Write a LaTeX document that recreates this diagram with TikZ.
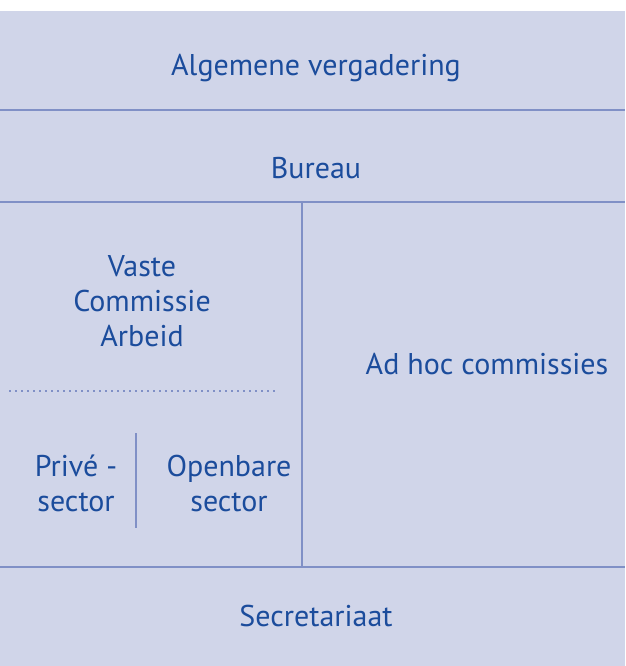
\documentclass[tikz,border=0pt]{standalone}
\usepackage{fontspec}
\setmainfont{PT Sans}
\definecolor{panel}{HTML}{D0D5E9}
\definecolor{rule}{HTML}{8090C6}
\definecolor{label}{HTML}{1B4C9C}
\begin{document}
\begin{tikzpicture}[x=0.75pt,y=-0.75pt,
  lbl/.style={text=label,font=\fontsize{22.5}{26}\selectfont,align=center,anchor=base},
  sep/.style={draw=rule,line width=2pt}]
  \useasboundingbox (0,0) rectangle (625,666);
  \fill[panel] (0,11) rectangle (625,666);

  \draw[sep] (0,110) -- (625,110);
  \draw[sep] (0,202) -- (625,202);
  \draw[sep] (0,567) -- (625,567);
  \draw[sep] (302,202) -- (302,567);
  \draw[sep] (136,433) -- (136,528);
  \draw[draw=rule,line width=1.2pt,dash pattern=on 1.5pt off 3pt] (9,391) -- (275,391);

  \node[lbl] (av) at (316,76) {Algemene vergadering};
  \node[lbl] (bur) at (316,179) {Bureau};
  \node[lbl] (vca) at (142,346) {Vaste\\Commissie\\Arbeid};
  \node[lbl] (adhoc) at (487,374) {Ad hoc commissies};
  \node[lbl] (priv) at (76,511) {Privé -\\sector};
  \node[lbl] (open) at (229,511) {Openbare\\sector};
  \node[lbl] (sec) at (316,626) {Secretariaat};
\end{tikzpicture}
\end{document}
